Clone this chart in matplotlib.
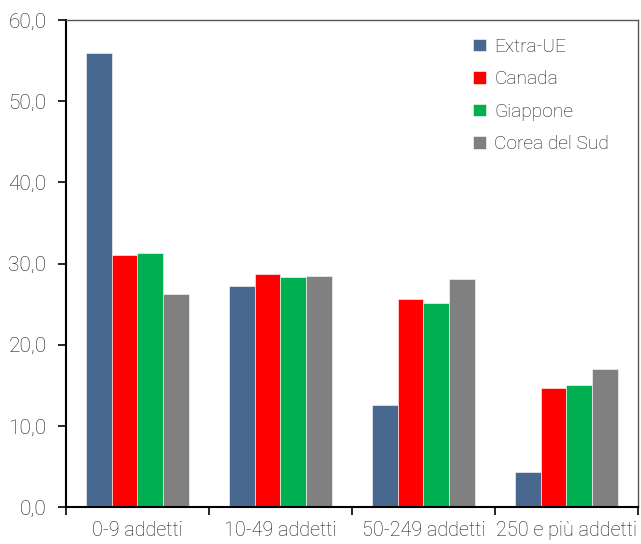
import numpy as np
import matplotlib
matplotlib.use("Agg")
import matplotlib.pyplot as plt
from matplotlib.ticker import FixedLocator, FuncFormatter

categories = ["0-9 addetti", "10-49 addetti", "50-249 addetti", "250 e più addetti"]
series = ["Extra-UE", "Canada", "Giappone", "Corea del Sud"]
extra_ue = [56.0, 27.2, 12.6, 4.3]
canada = [31.0, 28.7, 25.6, 14.7]
giappone = [31.3, 28.4, 25.1, 15.0]
corea = [26.2, 28.5, 28.1, 17.0]
colors = ["#49688f", "#ff0000", "#00b050", "#808080"]

plt.rcParams["font.family"] = ["Roboto", "DejaVu Sans"]
plt.rcParams["font.weight"] = "light"
txt = "#1a1a1a"

fig = plt.figure(figsize=(6.41, 5.44), dpi=100)
ax = fig.add_axes([0.103, 0.068, 0.892, 0.895])

x = np.arange(len(categories))
w = 0.18
for i, (vals, name) in enumerate(zip([extra_ue, canada, giappone, corea], series)):
    ax.bar(x + (i - 1.5) * w, vals, w, color=colors[i], label=name,
           edgecolor="white", linewidth=0.4)

ax.set_xlim(-0.5, len(categories) - 0.5)
ax.set_ylim(0, 60)
ax.set_yticks(np.arange(0, 61, 10))
ax.yaxis.set_major_formatter(FuncFormatter(lambda v, p: f"{v:.1f}".replace(".", ",")))
ax.set_xticks(x)
ax.set_xticklabels(categories)
ax.xaxis.set_minor_locator(FixedLocator(np.arange(-0.5, len(categories), 1.0)))
ax.tick_params(axis="x", which="major", length=0, pad=10, labelsize=14.2, labelcolor=txt)
ax.tick_params(axis="x", which="minor", length=6, width=1.2, direction="out", color="black")
ax.tick_params(axis="y", length=6, width=1.2, direction="out", color="black",
               labelcolor=txt, labelsize=15, pad=8)

for s in ["left", "bottom"]:
    ax.spines[s].set_color("black")
    ax.spines[s].set_linewidth(1.5)
for s in ["top", "right"]:
    ax.spines[s].set_color("#555555")
    ax.spines[s].set_linewidth(1.0)

leg = ax.legend(loc="upper left", bbox_to_anchor=(0.712, 0.964), frameon=False,
                borderpad=0, borderaxespad=0,
                handlelength=0.65, handleheight=0.65, handletextpad=0.45,
                labelspacing=0.76, fontsize=13.8)
for t in leg.get_texts():
    t.set_color(txt)

fig.savefig("out.png", dpi=100)
